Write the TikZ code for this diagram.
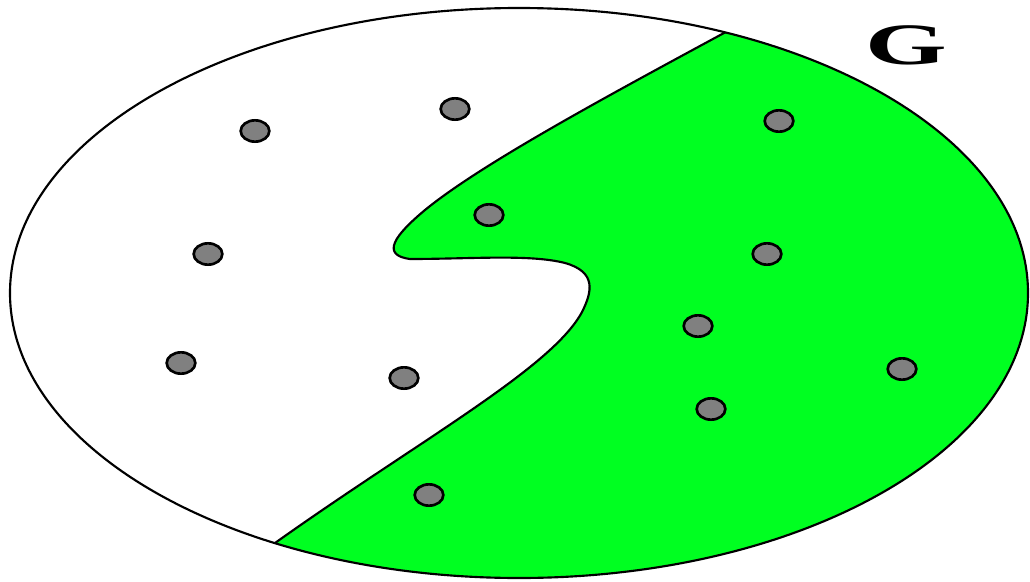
\documentclass[tikz,border=0pt]{standalone}
\usepackage{fontspec}
\setmainfont{Liberation Serif}
\usetikzlibrary{shapes.geometric}

\definecolor{cutgreen}{RGB}{0,255,33}
\definecolor{vertexgray}{RGB}{128,128,128}

% the cut between the two sides of G
\newcommand{\cutcurve}{(737,26) -- (724,33)
    .. controls (600,100) and (480,165) .. (425,210)
    .. controls (395,235) and (380,255) .. (410,259)
    .. controls (470,259) and (530,254) .. (565,263)
    .. controls (597,272) and (592,292) .. (582,312)
    .. controls (552,368) and (420,440) .. (275,543)
    -- (263,552)}

\begin{document}
\begin{tikzpicture}[
    x=0.75pt, y=-0.75pt,
    vertex/.style={
        draw,
        ellipse,
        fill=vertexgray,
        line width=2pt,
        minimum width=21.5pt,
        minimum height=16pt,
        inner sep=0pt
    },
    outline/.style={line width=1.6pt}
]
    \useasboundingbox (0,0) rectangle (1030,581);

    \begin{scope}
        \clip (519,293) ellipse [x radius=509, y radius=285];
        \fill[cutgreen] (1040,0) -- \cutcurve -- (263,600) -- (1040,600) -- cycle;
        \draw[outline] \cutcurve;
    \end{scope}
    \draw[outline] (519,293) ellipse [x radius=509, y radius=285];

    \foreach \pos [count=\i] in {(255,131), (455,109), (779,121), (489,215),
        (208,254), (767,254), (698,326), (181,363), (404,378), (902,369),
        (711,409), (429,495)}
        \node[vertex] (v\i) at \pos {};

    \node[font=\bfseries\fontsize{44}{44}\selectfont, xscale=1.79] (name) at (906,45) {G};
\end{tikzpicture}
\end{document}
